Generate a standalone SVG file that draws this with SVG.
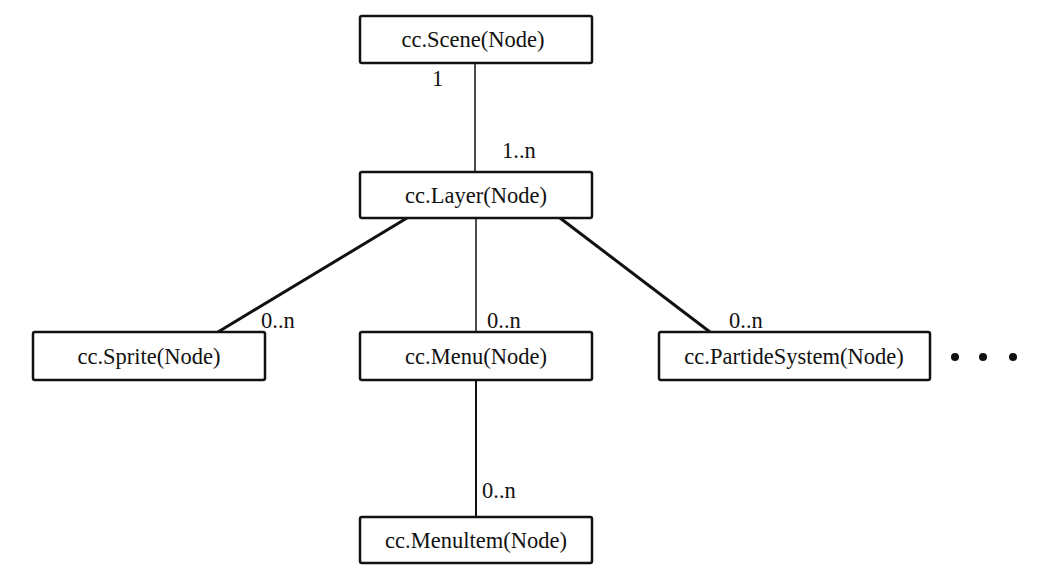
<svg xmlns="http://www.w3.org/2000/svg" width="1047" height="587" viewBox="0 0 1047 587">
<style>
.box{fill:#fff;stroke:#111;stroke-width:2.5}
.t{font-family:"Liberation Serif","Times New Roman",serif;font-size:22.5px;fill:#111;text-anchor:middle}
.m{font-family:"Liberation Serif","Times New Roman",serif;font-size:22.5px;fill:#111}
.c{stroke:#111;fill:none}
</style>
<rect width="1047" height="587" fill="#fff"/>
<g id="connectors">
<line class="c" x1="475" y1="63" x2="475" y2="172" stroke-width="1.5"/>
<line class="c" x1="407" y1="218" x2="218" y2="332" stroke-width="3"/>
<line class="c" x1="476" y1="218" x2="476" y2="332" stroke-width="1.5"/>
<line class="c" x1="560" y1="218" x2="710" y2="332" stroke-width="3"/>
<line class="c" x1="476" y1="380" x2="476" y2="517" stroke-width="2"/>
<text class="m" x="432" y="86">1</text>
<text class="m" x="502" y="158">1..n</text>
<text class="m" x="261" y="328">0..n</text>
<text class="m" x="487" y="328">0..n</text>
<text class="m" x="729" y="328">0..n</text>
<text class="m" x="482" y="498">0..n</text>
</g>
<g id="scene">
<rect class="box" x="360" y="16" width="232" height="47" rx="2"/>
<text class="t" x="473" y="47">cc.Scene(Node)</text>
</g>
<g id="layer">
<rect class="box" x="360" y="172" width="232" height="46" rx="2"/>
<text class="t" x="476" y="203">cc.Layer(Node)</text>
</g>
<g id="sprite">
<rect class="box" x="33" y="332" width="232" height="48" rx="2"/>
<text class="t" x="149" y="364">cc.Sprite(Node)</text>
</g>
<g id="menu">
<rect class="box" x="360" y="332" width="232" height="48" rx="2"/>
<text class="t" x="476" y="364">cc.Menu(Node)</text>
</g>
<g id="particle">
<rect class="box" x="659" y="332" width="271" height="48" rx="2"/>
<text class="t" x="794" y="364">cc.PartideSystem(Node)</text>
</g>
<g id="menuitem">
<rect class="box" x="360" y="517" width="232" height="46" rx="2"/>
<text class="t" x="476" y="548">cc.Menultem(Node)</text>
</g>
<g id="more">
<circle cx="955" cy="357" r="4" fill="#111"/>
<circle cx="983" cy="357" r="4" fill="#111"/>
<circle cx="1013" cy="357" r="4" fill="#111"/>
</g>
</svg>
